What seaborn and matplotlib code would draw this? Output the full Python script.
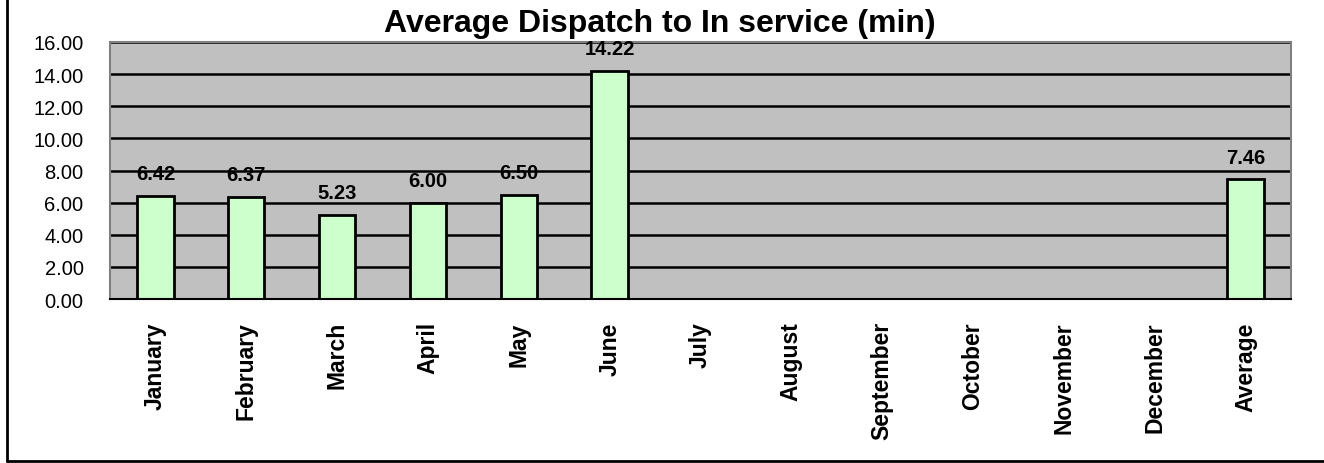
# Bar chart of average dispatch to in-service time per month.
import numpy as np
import pandas as pd
import matplotlib
matplotlib.use("Agg")
import matplotlib.pyplot as plt
from matplotlib.lines import Line2D
import seaborn as sns

# Category labels on the x-axis.
months = ["January", "February", "March", "April", "May", "June", "July",
          "August", "September", "October", "November", "December", "Average"]

# Minutes per category (empty months have no value).
minutes = [6.42, 6.37, 5.23, 6.00, 6.50, 14.22, np.nan,
           np.nan, np.nan, np.nan, np.nan, np.nan, 7.46]

# Y tick values.
y_ticks = [0, 2, 4, 6, 8, 10, 12, 14, 16]

df = pd.DataFrame({"month": months, "minutes": minutes})

sns.set_style("white")
plt.rcParams["font.family"] = ["Liberation Sans", "DejaVu Sans"]
plt.rcParams["text.color"] = "black"

fig = plt.figure(figsize=(13.24, 4.64), dpi=100)
ax = fig.add_axes([110 / 1324, 1 - 300 / 464, (1291 - 110) / 1324, (300 - 43) / 464])

# Draw bars through seaborn.
sns.barplot(data=df.dropna(), x="month", y="minutes", order=months,
            color="#CCFFCC", edgecolor="black", linewidth=2, width=0.4,
            saturation=1, ax=ax)

# Value labels above bars.
for cont in ax.containers:
    ax.bar_label(cont, fmt="%.2f", padding=9, fontsize=14.5, fontweight="bold", color="black")

ax.set_facecolor("#C0C0C0")
ax.set_ylim(0, 16)
ax.set_xlim(-0.5, len(months) - 0.5)
ax.set_yticks(y_ticks)
ax.set_yticklabels([f"{v:.2f}" for v in y_ticks], fontsize=14.5)

# Black horizontal gridlines.
ax.yaxis.grid(True, color="black", linewidth=1.8)
ax.set_axisbelow(True)

# Category labels rotated, ticks at boundaries.
ax.set_xticks(range(len(months)))
ax.set_xticklabels(months, rotation=90, fontsize=16.5, fontweight="bold")
ax.set_xticks(np.arange(-0.5, len(months), 1), minor=True)
ax.tick_params(axis="x", which="major", length=0, pad=16, labelcolor="black")
ax.tick_params(axis="x", which="minor", length=5, color="#808080", width=1, direction="out")
ax.tick_params(axis="y", length=7, color="#808080", width=1, direction="out", pad=12,
               labelcolor="black")

ax.set_xlabel("")
ax.set_ylabel("")
for side in ["top", "right", "left"]:
    ax.spines[side].set_color("#808080")
    ax.spines[side].set_linewidth(1.5)
ax.spines["bottom"].set_color("black")
ax.spines["bottom"].set_linewidth(1.5)

# Title.
fig.text(0.498, 1 - 24 / 464, "Average Dispatch to In service (min)",
         ha="center", va="center", fontsize=23, fontweight="bold", color="black")

# Outer chart frame (left and bottom edges visible).
fig.add_artist(Line2D([7 / 1324, 7 / 1324], [2 / 464, 1], color="black", linewidth=2))
fig.add_artist(Line2D([7 / 1324, 1], [2 / 464, 2 / 464], color="black", linewidth=2))

fig.savefig("out.png", dpi=100)
plt.close(fig)
